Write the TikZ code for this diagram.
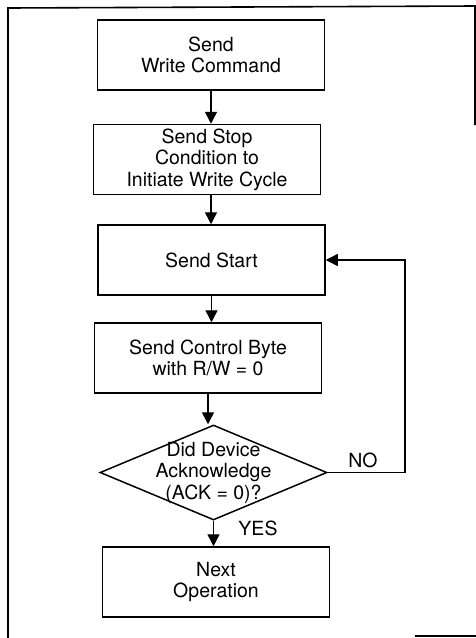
\documentclass[tikz,border=0pt]{standalone}
\usepackage{fontspec}
\setmainfont{TeX Gyre Heros}
\usetikzlibrary{shapes.geometric,arrows.meta}

\tikzset{
	stepbox/.style={draw, line width=1.5pt, minimum width=227pt, minimum height=70pt, inner sep=0pt, align=center},
	decision/.style={draw, diamond, line width=1.5pt, minimum width=227pt, minimum height=95pt, inner sep=0pt},
	flow/.style={line width=1.4pt, -{Triangle[length=12pt,width=12pt]}},
	every node/.style={font=\fontsize{19.5}{21.5}\selectfont}
}

\begin{document}
\begin{tikzpicture}[x=1pt,y=-1pt]
	
	\useasboundingbox (0,0) rectangle (476,638);
	
	%The frame (cut off at right and bottom)
	\draw[line width=1.6pt] (8,638) -- (8,8) -- (475,6) -- (475,125);
	\draw[line width=1.6pt] (415,636) -- (476,636);
	
	%The steps
	\node[stepbox] (write) at (211,55) {Send\\Write Command};
	\node[stepbox] (stop) at (207,159.5) {Send Stop\\Condition to\\Initiate Write Cycle};
	\node[stepbox] (start) at (211.5,260) {Send Start};
	\node[stepbox] (control) at (208,358) {Send Control Byte\\with R/W = 0};
	\node[decision] (ack) at (213.5,472.5) {};
	\node[align=center] (acktext) at (213.5,472.5) {Did Device\\Acknowledge\\(ACK = 0)?};
	\node[stepbox] (next) at (216,582) {Next\\Operation};
	
	\coordinate (loop) at (405,0);
	
	%The arrows
	\draw[flow] (write.south) -- (write.south |- stop.north);
	\draw[flow] (stop.south -| write.south) -- (write.south |- start.north);
	\draw[flow] (start.south) -- (start.south |- control.north);
	\draw[flow] (control.south) -- (control.south |- ack.north);
	\draw[flow] (ack.south) -- (ack.south |- next.north);
	\draw[flow] (ack.east) -| (loop |- start.east) -- (start.east);
	
	\node (no) at (363,460) {NO};
	\node (yes) at (258,528) {YES};

\end{tikzpicture}
\end{document}
